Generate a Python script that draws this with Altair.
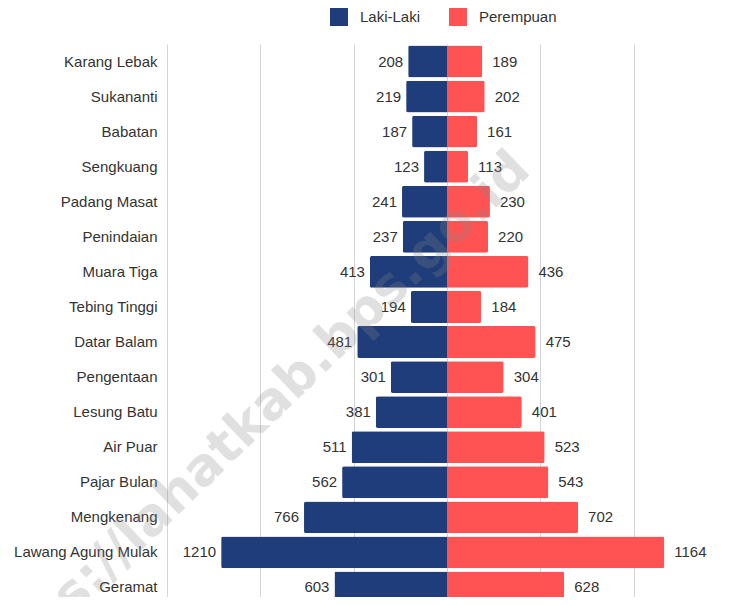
import altair as alt
import pandas as pd

CATEGORIES = ["Karang Lebak", "Sukananti", "Babatan", "Sengkuang", "Padang Masat",
              "Penindaian", "Muara Tiga", "Tebing Tinggi", "Datar Balam", "Pengentaan",
              "Lesung Batu", "Air Puar", "Pajar Bulan", "Mengkenang",
              "Lawang Agung Mulak", "Geramat"]
LAKI = [208, 219, 187, 123, 241, 237, 413, 194, 481, 301, 381, 511, 562, 766, 1210, 603]
PEREMPUAN = [189, 202, 161, 113, 230, 220, 436, 184, 475, 304, 401, 523, 543, 702, 1164, 628]
SERIES = ["Laki-Laki", "Perempuan"]
COLORS = ["#1f3d7a", "#ff5252"]
GRID_VALUES = [-1500, -1000, -500, 0, 500, 1000, 1500]
WATERMARK = "https://lahatkab.bps.go.id"

rows = []
for c, l, p in zip(CATEGORIES, LAKI, PEREMPUAN):
    rows.append({"desa": c, "jk": SERIES[0], "val": -l, "lbl": l})
    rows.append({"desa": c, "jk": SERIES[1], "val": p, "lbl": p})
df = pd.DataFrame(rows)

FONT = "Liberation Sans"

x_enc = alt.X("val:Q", scale=alt.Scale(domain=[-1500, 1500], nice=False),
              axis=alt.Axis(values=GRID_VALUES, labels=False, ticks=False, domain=False,
                            grid=True, gridColor="#d4d4d4", gridWidth=1, title=None))
y_enc = alt.Y("desa:N", sort=CATEGORIES,
              scale=alt.Scale(paddingInner=0.09),
              axis=alt.Axis(title=None, ticks=False, domain=False, labelPadding=10,
                            labelFontSize=15, labelFont=FONT, labelColor="#333333",
                            grid=False))

base = alt.Chart(df)

bars = base.mark_bar(cornerRadius=2).encode(
    x=x_enc,
    y=y_enc,
    color=alt.Color("jk:N", scale=alt.Scale(domain=SERIES, range=COLORS),
                    legend=alt.Legend(title=None, orient="none", direction="horizontal",
                                      legendX=163, legendY=-36, symbolType="square",
                                      symbolSize=324, symbolStrokeWidth=0,
                                      symbolOpacity=1,
                                      labelFontSize=15, labelFont=FONT,
                                      labelColor="#333333", columnPadding=28,
                                      labelOffset=12)),
)

txt_l = base.transform_filter(alt.datum.jk == SERIES[0]).mark_text(
    align="right", baseline="middle", dx=-5, fontSize=15, font=FONT, color="#333333"
).encode(x="val:Q", y=alt.Y("desa:N", sort=CATEGORIES), text="lbl:Q")

txt_r = base.transform_filter(alt.datum.jk == SERIES[1]).mark_text(
    align="left", baseline="middle", dx=10, fontSize=15, font=FONT, color="#333333"
).encode(x="val:Q", y=alt.Y("desa:N", sort=CATEGORIES), text="lbl:Q")

wm = alt.Chart(alt.Data(values=[{"t": WATERMARK}])).mark_text(
    align="center", baseline="middle", angle=316, fontSize=52, fontWeight="bold",
    font="DejaVu Sans", color="#888888", opacity=0.25
).encode(x=alt.value(80), y=alt.value(382), text="t:N")

chart = alt.layer(bars, txt_l, txt_r, wm).properties(
    width=560, height=561,
    background="white",
    autosize=alt.AutoSizeParams(type="none"),
    padding={"left": 159, "top": 36, "right": -6, "bottom": -8},
).configure_view(strokeWidth=0)

chart.save("out.html", embed_options={"renderer": "svg", "actions": False})
